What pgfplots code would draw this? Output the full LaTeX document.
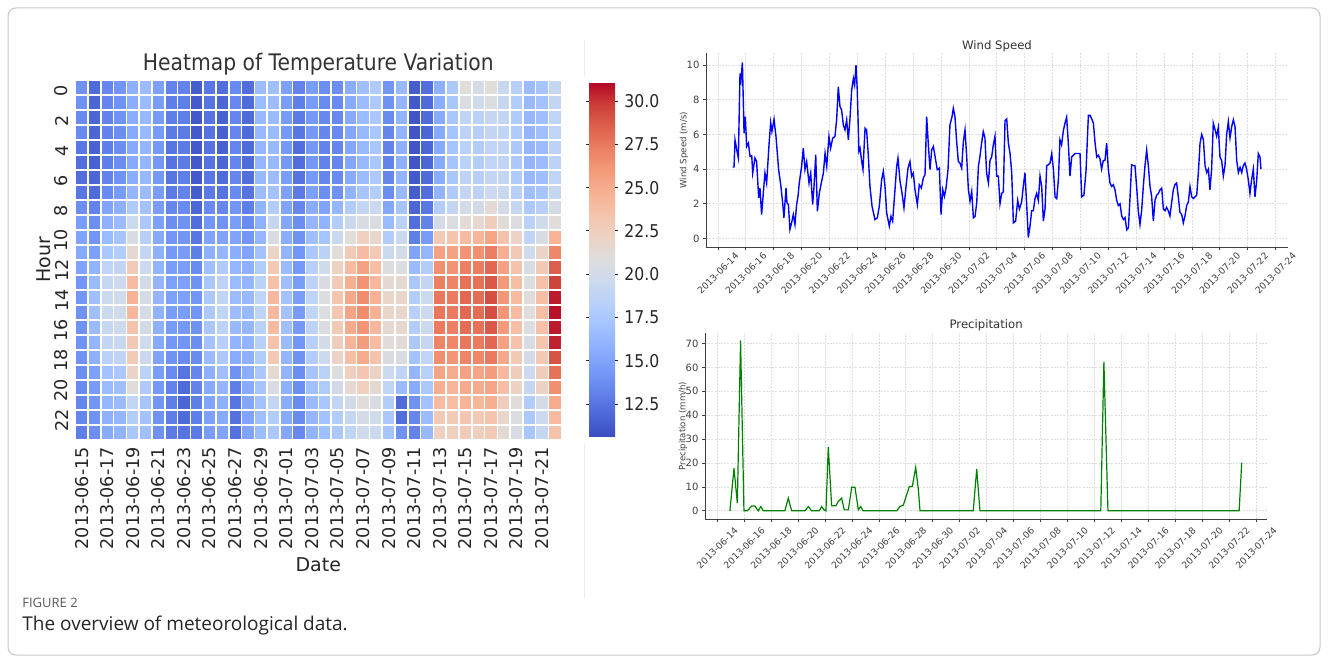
\documentclass[border=0pt]{standalone}
\usepackage{pgfplots}
\pgfplotsset{compat=1.18}
\usepackage{fontspec}
\setmainfont{DejaVu Sans}
\newfontfamily\capfont{Open Sans}
\definecolor{txt}{HTML}{262626}
\definecolor{wblue}{HTML}{0000FF}
\definecolor{pgreen}{HTML}{008000}
\pgfplotsset{
  colormap={coolwarm}{rgb255=(59,76,192) rgb255=(77,104,215) rgb255=(98,130,234) rgb255=(119,154,247) rgb255=(141,175,254) rgb255=(163,194,255) rgb255=(184,208,249) rgb255=(204,217,238) rgb255=(221,221,221) rgb255=(236,211,197) rgb255=(245,196,173) rgb255=(247,177,148) rgb255=(244,154,123) rgb255=(236,127,99) rgb255=(222,96,77) rgb255=(203,62,56) rgb255=(180,4,38)},
}
\newcommand\fs[1]{\fontsize{#1}{#1}\selectfont}
\begin{document}
\begin{tikzpicture}[x=0.5pt,y=-0.5pt]
\useasboundingbox (0,0) rectangle (1328,663);
\fill[white] (0,0) rectangle (1328,663);
\draw[black!22, line width=0.5pt, rounded corners=4pt] (8,8) rectangle (1320,655);
\draw[black!7, line width=0.5pt] (584,40) -- (584,76);
\draw[black!7, line width=0.5pt] (584,444) -- (584,598);

% ---------------- heatmap ----------------
\begin{axis}[
  at={(37.65pt,-220pt)}, anchor=south west,
  scale only axis, width=243pt, height=180pt,
  xmin=-0.5, xmax=37.5, ymin=-0.5, ymax=23.5, y dir=reverse,
  axis on top,
  axis line style={draw=none},
  tick pos=left,
  xtick={0,2,...,36},
  xticklabels={2013-06-15,2013-06-17,2013-06-19,2013-06-21,2013-06-23,2013-06-25,2013-06-27,2013-06-29,2013-07-01,2013-07-03,2013-07-05,2013-07-07,2013-07-09,2013-07-11,2013-07-13,2013-07-15,2013-07-17,2013-07-19,2013-07-21},
  ytick={0,2,...,22},
  tick align=inside, major tick length=2.5pt,
  major tick style={txt, line width=0.6pt},
  colormap name=coolwarm,
  point meta min=10.6, point meta max=31.1,
  /pgf/number format/assume math mode=true,
  xticklabel style={rotate=90, anchor=east, font=\fs{8.8}, text=txt},
  yticklabel style={rotate=90, anchor=south, font=\fs{8.8}, text=txt, xshift=-1.5pt},
  title={Heatmap of Temperature Variation},
  title style={at={(0.5,1)}, anchor=base, yshift=-1.25pt, font=\fs{11.4}, text=black!80, xscale=0.89},
  xlabel={Date}, ylabel={Hour},
  xlabel style={at={(axis description cs:0.5,-0.347)}, anchor=center, font=\fs{9.5}, text=txt},
  ylabel style={at={(axis description cs:-0.0644,0.5)}, anchor=center, font=\fs{9.5}, text=txt},
  colorbar,
  colorbar style={
    at={(parent axis.north east)}, anchor=north west, xshift=5.35pt, yshift=-1pt,
    scale only axis, width=13pt, height=177.5pt,
    ytick={12.5,15,17.5,20,22.5,25,27.5,30},
    axis line style={draw=none},
    tick align=outside, major tick length=1.5pt,
    major tick style={txt, line width=0.5pt},
    yticklabel style={font=\fs{8.8}, text=txt, xscale=0.89},
    /pgf/number format/fixed, /pgf/number format/fixed zerofill,
    /pgf/number format/precision=1, /pgf/number format/assume math mode=true,
  },
]
\addplot[scatter, only marks, mark=square*, mark size=3.2pt,
  mark options={yscale=1.173, draw=white, line width=0.75pt},
  scatter/use mapped color={draw=white, fill=mapped color, line width=0.75pt}, point meta=explicit]
 table[row sep=\\, header=false, x expr={floor((\coordindex+0.5)/24)}, y expr={\coordindex-24*floor((\coordindex+0.5)/24)}, meta index=0] {
14.0\\14.0\\13.6\\13.6\\12.6\\12.2\\12.2\\12.6\\13.8\\14.6\\15.0\\15.4\\15.0\\14.2\\14.2\\14.0\\14.0\\14.0\\14.0\\13.8\\13.6\\13.4\\13.4\\13.0\\
12.0\\11.8\\11.8\\11.8\\11.6\\11.6\\11.8\\12.0\\13.2\\13.8\\14.2\\14.8\\16.0\\16.5\\16.8\\16.8\\16.5\\16.2\\15.8\\14.8\\14.5\\14.2\\14.0\\13.8\\
13.4\\13.4\\13.2\\13.2\\13.0\\13.0\\13.2\\13.6\\15.0\\15.8\\16.5\\17.5\\18.8\\19.3\\19.5\\19.5\\19.3\\19.0\\18.5\\17.0\\16.5\\16.2\\15.8\\15.5\\
14.2\\14.0\\14.0\\13.8\\13.8\\13.8\\14.0\\14.5\\15.8\\16.5\\17.2\\18.0\\19.0\\19.6\\19.8\\19.8\\19.6\\19.3\\18.8\\17.5\\16.8\\16.5\\16.2\\16.0\\
15.8\\15.6\\15.6\\15.4\\15.4\\15.4\\15.6\\16.2\\17.8\\19.5\\20.5\\21.5\\22.8\\24.0\\24.6\\24.3\\23.5\\23.0\\22.8\\22.0\\21.0\\19.0\\18.0\\17.5\\
16.6\\16.5\\16.4\\16.4\\16.2\\16.2\\16.4\\16.6\\17.0\\17.5\\18.2\\19.0\\19.6\\20.0\\20.2\\20.2\\20.0\\19.8\\19.5\\18.5\\17.8\\17.2\\17.0\\16.8\\
14.8\\14.6\\14.5\\14.5\\14.4\\14.4\\14.4\\14.6\\14.6\\14.8\\15.4\\15.8\\16.0\\16.2\\16.2\\16.0\\15.8\\15.4\\15.0\\14.6\\14.4\\14.2\\14.0\\14.0\\
13.2\\13.0\\13.0\\12.8\\12.5\\12.4\\12.5\\12.8\\13.4\\13.8\\14.2\\14.4\\14.6\\14.8\\14.8\\14.6\\14.5\\14.3\\14.0\\13.6\\13.2\\13.0\\12.9\\12.8\\
13.2\\13.0\\13.0\\12.8\\12.8\\12.8\\13.0\\13.2\\13.6\\14.0\\14.2\\14.5\\14.6\\14.8\\14.8\\14.6\\14.4\\14.2\\13.6\\12.5\\12.0\\11.8\\12.0\\12.4\\
11.4\\11.3\\11.2\\11.2\\11.2\\11.2\\11.2\\11.4\\11.8\\12.2\\12.6\\13.0\\13.6\\14.0\\14.2\\14.2\\14.0\\13.8\\13.6\\13.4\\13.2\\13.0\\13.0\\12.8\\
12.6\\12.5\\12.4\\12.4\\12.4\\12.4\\12.6\\12.8\\13.6\\14.2\\15.0\\15.8\\16.8\\17.4\\17.6\\17.6\\17.4\\17.0\\16.5\\15.8\\15.4\\15.0\\14.8\\14.6\\
12.2\\11.8\\11.6\\11.5\\11.6\\11.8\\12.0\\12.4\\13.4\\14.0\\15.0\\16.2\\17.8\\18.6\\18.8\\18.8\\18.6\\18.2\\17.6\\16.8\\16.2\\15.8\\15.4\\15.0\\
13.6\\13.5\\13.4\\13.4\\13.3\\13.3\\13.4\\13.6\\14.2\\14.6\\15.0\\15.6\\16.2\\16.5\\16.6\\16.6\\16.4\\16.0\\15.5\\14.0\\13.0\\12.5\\12.3\\12.3\\
12.2\\12.0\\12.0\\12.0\\12.0\\12.0\\12.2\\12.4\\13.0\\13.6\\14.2\\15.0\\15.8\\16.2\\16.4\\16.4\\16.2\\16.0\\15.8\\15.6\\15.4\\15.2\\15.0\\15.0\\
16.6\\16.5\\16.4\\16.4\\16.2\\16.2\\16.4\\16.6\\16.0\\15.8\\16.2\\17.0\\18.0\\18.5\\18.8\\18.8\\18.5\\18.2\\18.0\\17.5\\17.2\\17.0\\16.8\\16.6\\
16.8\\16.6\\16.5\\16.5\\16.4\\16.4\\16.6\\17.0\\18.0\\19.2\\20.5\\22.0\\23.0\\23.6\\24.2\\24.2\\24.0\\23.5\\23.0\\21.5\\20.5\\19.0\\18.0\\17.5\\
14.8\\14.6\\14.5\\14.4\\14.4\\14.4\\14.6\\14.8\\15.0\\15.2\\15.6\\16.0\\16.5\\16.8\\17.0\\17.0\\16.8\\16.5\\16.2\\16.0\\15.8\\15.6\\15.4\\15.2\\
13.2\\13.0\\12.8\\12.6\\12.2\\12.2\\12.4\\12.8\\13.4\\13.8\\14.0\\14.2\\14.4\\14.6\\14.6\\14.5\\14.4\\14.2\\14.0\\13.8\\13.8\\13.6\\13.6\\13.5\\
14.6\\14.5\\14.4\\14.4\\14.3\\14.3\\14.4\\14.8\\15.6\\16.2\\16.8\\17.5\\18.2\\18.6\\18.8\\18.8\\18.6\\18.3\\18.0\\17.2\\16.8\\16.5\\16.2\\16.0\\
13.8\\13.6\\13.5\\13.4\\13.2\\13.2\\13.4\\13.8\\15.0\\16.0\\17.2\\18.5\\19.8\\20.5\\20.8\\20.8\\20.6\\20.2\\19.6\\18.5\\17.8\\17.4\\17.0\\16.8\\
13.8\\13.6\\13.5\\13.5\\13.4\\13.4\\13.6\\14.0\\16.2\\18.0\\19.5\\21.0\\22.2\\22.8\\23.2\\23.2\\23.0\\22.6\\22.0\\20.8\\20.0\\19.0\\18.0\\17.5\\
15.6\\15.4\\15.4\\15.2\\15.2\\15.2\\15.4\\16.0\\18.0\\19.5\\21.0\\22.8\\24.0\\24.8\\25.2\\25.4\\25.0\\24.5\\23.8\\22.5\\21.5\\20.0\\19.2\\18.8\\
16.8\\16.6\\16.5\\16.4\\16.4\\16.4\\16.6\\17.2\\19.0\\20.5\\22.5\\24.0\\25.5\\26.3\\26.6\\26.6\\26.2\\25.8\\25.0\\23.2\\22.5\\21.0\\20.2\\19.8\\
17.8\\17.6\\17.5\\17.4\\17.4\\17.4\\17.6\\18.0\\19.5\\20.5\\21.8\\23.0\\23.8\\24.3\\24.6\\24.6\\24.3\\24.0\\23.5\\22.2\\21.5\\20.5\\19.8\\19.5\\
14.2\\14.0\\13.6\\13.4\\13.2\\13.2\\13.4\\13.8\\15.2\\16.5\\18.0\\19.5\\20.8\\21.5\\21.8\\21.8\\21.5\\21.0\\20.5\\19.5\\18.8\\18.0\\17.5\\17.2\\
16.4\\16.2\\16.0\\16.0\\15.8\\15.8\\16.0\\16.4\\17.2\\18.5\\19.5\\20.2\\20.8\\21.5\\21.8\\21.8\\21.6\\21.2\\20.5\\18.8\\16.5\\12.0\\12.2\\14.0\\
11.4\\11.2\\11.0\\11.0\\11.0\\11.0\\11.2\\11.4\\11.8\\12.2\\13.0\\15.0\\16.5\\17.5\\18.0\\18.2\\18.0\\17.6\\17.0\\16.2\\15.5\\14.0\\13.4\\13.2\\
12.2\\12.0\\12.0\\11.8\\11.8\\11.8\\12.0\\12.2\\12.6\\13.2\\14.5\\16.2\\18.0\\19.0\\19.5\\19.6\\19.5\\19.2\\18.8\\18.2\\17.6\\17.0\\16.6\\16.4\\
15.8\\15.6\\15.5\\15.4\\15.4\\15.4\\15.6\\16.0\\18.0\\20.2\\23.0\\25.5\\26.5\\27.2\\27.6\\27.6\\27.4\\27.0\\26.5\\25.4\\24.8\\24.0\\23.0\\22.4\\
17.6\\17.4\\17.4\\17.2\\17.2\\17.2\\17.4\\17.8\\19.0\\20.6\\23.4\\25.5\\26.3\\27.0\\27.4\\27.4\\27.2\\26.8\\26.2\\25.0\\24.4\\23.8\\22.8\\22.4\\
21.0\\20.6\\18.8\\18.6\\18.4\\18.4\\18.6\\19.0\\20.2\\21.2\\24.0\\26.3\\27.2\\27.8\\28.2\\28.2\\28.0\\27.6\\27.0\\25.5\\25.0\\24.5\\23.2\\22.8\\
20.2\\19.8\\18.4\\18.2\\18.0\\18.0\\18.2\\18.6\\20.0\\21.5\\24.4\\26.5\\27.3\\27.8\\28.0\\28.0\\27.8\\27.4\\26.8\\25.4\\25.0\\24.3\\23.0\\22.5\\
21.0\\20.6\\19.2\\19.0\\18.8\\18.8\\19.0\\19.6\\21.2\\22.6\\25.4\\27.3\\28.2\\28.8\\29.2\\29.2\\28.8\\28.2\\27.4\\25.8\\25.3\\24.8\\23.4\\23.0\\
19.4\\19.2\\19.0\\18.8\\18.8\\18.8\\19.0\\19.4\\20.2\\21.2\\23.5\\24.8\\25.5\\26.0\\26.2\\26.2\\26.0\\25.6\\25.2\\24.2\\23.8\\22.6\\21.8\\21.4\\
18.2\\18.0\\17.8\\17.8\\17.6\\17.6\\17.8\\18.2\\19.2\\20.6\\22.0\\23.0\\23.5\\23.8\\24.0\\24.0\\23.8\\23.5\\23.0\\22.6\\22.3\\21.0\\20.6\\20.4\\
16.6\\16.4\\16.3\\16.2\\16.2\\16.2\\16.4\\16.8\\17.6\\18.4\\18.8\\19.8\\20.4\\20.8\\21.0\\21.0\\20.8\\20.5\\20.2\\19.6\\19.2\\18.0\\17.6\\17.4\\
17.2\\17.0\\16.8\\16.8\\16.6\\16.6\\16.8\\17.2\\18.2\\19.8\\20.5\\22.0\\23.0\\23.6\\23.8\\23.8\\23.6\\23.3\\23.0\\22.6\\22.2\\20.2\\19.6\\19.2\\
19.2\\19.0\\18.8\\18.8\\18.6\\18.6\\18.8\\19.2\\20.2\\21.0\\24.5\\26.8\\28.6\\29.6\\30.6\\30.8\\30.6\\30.4\\29.0\\27.8\\26.5\\25.0\\24.0\\23.5\\
};
\end{axis}

% ---------------- wind speed ----------------
\begin{axis}[
  at={(353pt,-123.65pt)}, anchor=south west,
  scale only axis, width=291pt, height=97.15pt,
  xmin=-0.86, xmax=40.89, ymin=-0.51, ymax=10.7,
  axis x line*=bottom, axis y line*=left,
  axis line style={black!75, line width=0.5pt},
  xtick={0,2,...,40}, ytick={0,2,...,10},
  xticklabels={2013-06-14,2013-06-16,2013-06-18,2013-06-20,2013-06-22,2013-06-24,2013-06-26,2013-06-28,2013-06-30,2013-07-02,2013-07-04,2013-07-06,2013-07-08,2013-07-10,2013-07-12,2013-07-14,2013-07-16,2013-07-18,2013-07-20,2013-07-22,2013-07-24},
  tick align=outside, major tick length=1.5pt, major tick style={black!75, line width=0.4pt},
  grid=major, grid style={black!13, line width=0.4pt, dash pattern=on 1pt off 0.6pt},
  /pgf/number format/assume math mode=true,
  xticklabel style={yshift=-11.5pt, rotate=45, anchor=center, font=\fs{4.6}, text=black!75},
  yticklabel style={font=\fs{5}, text=black!75, xshift=1.75pt},
  title={Wind Speed}, title style={at={(0.5,1)}, anchor=base, yshift=-4.15pt, font=\fs{5.85}, text=black!80},
  ylabel={Wind Speed (m/s)}, ylabel style={at={(axis description cs:-0.038,0.5)}, anchor=center, font=\fs{4.3}, text=black!75},
]
\addplot[wblue, line width=0.7pt] coordinates {
(1.05,4.12) (1.15,4.12) (1.22,5.69) (1.39,4.92) (1.46,4.64) (1.58,9.52) (1.65,9.14) (1.75,10.15) (1.87,6.07) (1.96,7.03)
(2.06,5.31) (2.18,5.50) (2.30,4.73) (2.42,4.77) (2.49,3.77) (2.65,4.64) (2.77,4.44) (2.92,2.34) (3.01,2.91) (3.13,1.38)
(3.25,2.62) (3.37,3.77) (3.49,3.20) (3.66,5.40) (3.78,6.69) (3.87,6.17) (4.02,6.88) (4.16,5.88) (4.35,3.97) (4.50,3.10)
(4.64,2.05) (4.73,1.19) (4.88,2.91) (4.95,2.05) (5.05,1.95) (5.16,0.52) (5.28,0.90) (5.40,1.38) (5.52,0.80) (5.64,1.95)
(5.74,2.43) (5.83,3.20) (6.00,4.16) (6.12,5.21) (6.24,3.97) (6.36,4.44) (6.53,3.20) (6.65,3.77) (6.79,1.95) (6.89,3.01)
(7.01,4.83) (7.13,1.57) (7.27,2.62) (7.41,3.20) (7.56,3.77) (7.68,4.92) (7.80,4.16) (7.96,5.88) (8.08,5.21) (8.23,5.79)
(8.39,5.88) (8.51,6.84) (8.63,8.75) (8.75,7.61) (8.87,7.41) (8.99,6.55) (9.11,6.26) (9.23,6.84) (9.35,5.69) (9.47,6.93)
(9.59,8.56) (9.71,9.23) (9.80,8.85) (9.90,10.00) (9.99,8.56) (10.11,5.02) (10.19,5.21) (10.31,4.44) (10.40,3.97) (10.55,6.36)
(10.66,6.26) (10.78,4.83) (10.90,3.01) (11.05,1.86) (11.26,1.09) (11.43,1.19) (11.57,1.86) (11.74,3.39) (11.86,3.87) (11.98,3.01)
(12.10,1.48) (12.29,0.71) (12.41,1.28) (12.53,1.00) (12.67,2.53) (12.82,4.16) (12.91,4.64) (13.06,3.30) (13.20,2.62) (13.34,1.76)
(13.49,3.01) (13.63,4.06) (13.77,4.44) (13.89,3.58) (14.01,3.77) (14.13,2.82) (14.30,1.95) (14.44,3.10) (14.59,2.91) (14.73,3.49)
(14.85,3.68) (14.97,7.03) (15.09,5.40) (15.21,3.97) (15.33,5.11) (15.45,5.31) (15.59,4.64) (15.73,3.97) (15.88,4.06) (16.00,1.38)
(16.12,2.82) (16.24,2.43) (16.36,2.91) (16.50,3.97) (16.64,6.55) (16.79,7.03) (16.88,7.51) (17.00,7.03) (17.12,5.59) (17.24,4.44)
(17.36,4.35) (17.48,4.06) (17.60,5.59) (17.72,6.26) (17.84,4.73) (17.96,2.82) (18.08,2.15) (18.20,2.72) (18.32,1.19) (18.44,1.28)
(18.56,2.05) (18.68,4.16) (18.79,4.73) (18.91,5.50) (19.03,6.17) (19.15,5.79) (19.27,3.77) (19.40,3.20) (19.51,4.50) (19.63,4.70)
(19.75,5.40) (19.87,5.90) (19.99,3.60) (20.11,3.60) (20.23,2.00) (20.35,2.60) (20.47,2.70) (20.59,6.80) (20.71,6.90) (20.83,5.50)
(20.95,4.90) (21.07,3.80) (21.19,0.90) (21.35,1.00) (21.50,2.20) (21.62,1.70) (21.78,2.10) (21.90,3.00) (22.02,3.80) (22.14,2.00)
(22.26,0.05) (22.38,0.70) (22.50,1.60) (22.62,1.60) (22.74,2.30) (22.86,2.60) (22.98,2.20) (23.10,3.60) (23.22,3.00) (23.34,1.00)
(23.46,1.70) (23.58,4.20) (23.70,4.25) (23.82,4.35) (23.94,4.90) (24.06,4.00) (24.18,2.40) (24.30,2.30) (24.42,3.40) (24.53,5.70)
(24.65,5.40) (24.77,6.20) (24.89,6.65) (25.01,7.00) (25.13,5.50) (25.25,3.60) (25.37,4.70) (25.49,4.80) (25.61,4.90) (25.78,4.90)
(25.97,4.90) (26.09,2.40) (26.25,2.50) (26.40,3.90) (26.57,7.10) (26.69,7.10) (26.81,6.90) (26.93,6.65) (27.05,5.50) (27.17,4.70)
(27.28,4.80) (27.40,4.60) (27.52,4.00) (27.64,4.50) (27.76,4.50) (27.88,5.50) (28.00,4.00) (28.12,3.20) (28.24,3.00) (28.36,3.10)
(28.48,2.80) (28.60,2.20) (28.72,1.90) (28.84,2.00) (28.96,1.30) (29.08,1.10) (29.20,1.20) (29.32,0.50) (29.44,0.60) (29.56,2.40)
(29.67,4.25) (29.79,4.20) (29.91,4.20) (30.03,3.00) (30.15,1.60) (30.27,0.80) (30.39,1.60) (30.51,3.00) (30.63,4.20) (30.75,5.10)
(30.87,4.20) (30.99,3.00) (31.11,2.40) (31.23,1.00) (31.35,2.20) (31.47,2.50) (31.59,2.60) (31.71,2.80) (31.83,2.90) (31.95,1.70)
(32.07,1.60) (32.18,1.80) (32.30,1.60) (32.42,1.30) (32.54,2.05) (32.66,2.80) (32.78,3.10) (32.90,3.20) (33.02,2.40) (33.14,1.50)
(33.26,1.40) (33.38,0.90) (33.50,1.30) (33.62,1.90) (33.74,2.10) (33.86,3.00) (33.98,2.40) (34.10,2.30) (34.22,2.40) (34.34,2.50)
(34.46,3.80) (34.58,5.50) (34.70,6.00) (34.82,5.70) (34.94,4.20) (35.06,3.80) (35.18,4.00) (35.29,2.80) (35.41,4.00) (35.53,6.65)
(35.65,6.30) (35.77,5.90) (35.89,6.40) (36.01,4.70) (36.13,4.50) (36.25,3.60) (36.37,4.20) (36.49,6.00) (36.61,6.75) (36.73,5.80)
(36.85,6.45) (36.97,6.85) (37.09,6.45) (37.21,4.50) (37.33,3.80) (37.45,4.10) (37.57,3.80) (37.68,4.20) (37.80,4.35) (37.92,4.00)
(38.04,3.40) (38.16,2.60) (38.28,3.40) (38.40,4.00) (38.52,2.40) (38.64,3.30) (38.76,4.90) (38.88,4.70) (38.95,4.00)
};
\end{axis}

% ---------------- precipitation ----------------
\begin{axis}[
  at={(352.5pt,-259.65pt)}, anchor=south west,
  scale only axis, width=281.15pt, height=93.3pt,
  xmin=-0.91, xmax=40.83, ymin=-3.55, ymax=74.55,
  axis x line*=bottom, axis y line*=left,
  axis line style={black!75, line width=0.5pt},
  xtick={0,2,...,40}, ytick={0,10,...,70},
  xticklabels={2013-06-14,2013-06-16,2013-06-18,2013-06-20,2013-06-22,2013-06-24,2013-06-26,2013-06-28,2013-06-30,2013-07-02,2013-07-04,2013-07-06,2013-07-08,2013-07-10,2013-07-12,2013-07-14,2013-07-16,2013-07-18,2013-07-20,2013-07-22,2013-07-24},
  tick align=outside, major tick length=1.5pt, major tick style={black!75, line width=0.4pt},
  grid=major, grid style={black!13, line width=0.4pt, dash pattern=on 1pt off 0.6pt},
  /pgf/number format/assume math mode=true,
  xticklabel style={yshift=-12.8pt, rotate=45, anchor=center, font=\fs{4.6}, text=black!75},
  yticklabel style={font=\fs{5}, text=black!75, xshift=1.75pt},
  title={Precipitation}, title style={at={(0.5,1)}, anchor=base, yshift=-3.65pt, font=\fs{5.85}, text=black!80},
  ylabel={Precipitation (mm/h)}, ylabel style={at={(axis description cs:-0.039,0.5)}, anchor=center, font=\fs{4.3}, text=black!75},
]
\addplot[pgreen, line width=0.6pt] coordinates {
(0.94,0) (1.24,17.8) (1.49,3.2) (1.73,71.3) (1.98,0) (2.23,0) (2.55,2.0) (2.80,2.0) (3.04,0) (3.24,1.8) (3.41,0)
(5.02,0) (5.27,5.3) (5.52,0) (6.51,0) (6.76,1.8) (7.00,0) (7.57,0) (7.75,1.8) (7.92,0.4) (8.07,0) (8.24,26.8)
(8.49,2.1) (8.81,2.1) (8.98,3.9) (9.23,5.3) (9.43,0.4) (9.73,0.4) (9.98,9.9) (10.22,9.9) (10.47,0.4) (10.64,1.8)
(10.84,0) (13.32,0) (13.56,1.8) (13.81,2.4) (14.26,10.2) (14.48,10.2) (14.73,18.2) (14.93,8.8) (15.05,0) (19.00,0)
(19.26,17.5) (19.50,0) (28.47,0) (28.70,62.3) (29.00,0) (38.74,0) (38.93,20.2)
};
\end{axis}

% ---------------- caption ----------------
\node[anchor=base west, inner sep=0pt, font=\capfont\fs{6.5}, text=black!65] at (22,607) {FIGURE 2};
\node[anchor=base west, inner sep=0pt, font=\capfont\fs{9.5}, text=black!85] at (22,630) {The overview of meteorological data.};
\end{tikzpicture}
\end{document}
